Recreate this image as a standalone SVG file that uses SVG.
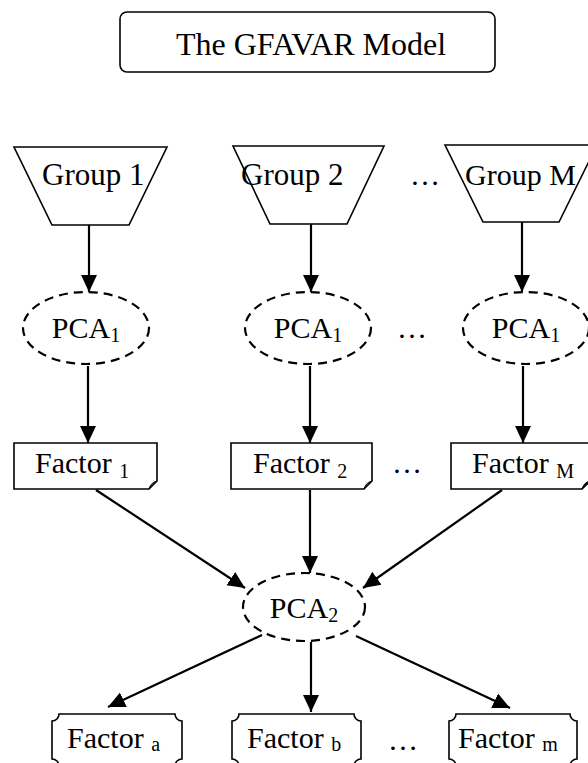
<svg xmlns="http://www.w3.org/2000/svg" width="588" height="763" viewBox="0 0 588 763">
<style>
  text { font-family: "Liberation Serif", "Times New Roman", serif; font-size: 30px; fill: #000; }
  .title { font-size: 32px; }
  .grp { font-size: 31px; }
  .sub { font-size: 20px; }
  .shape { fill: #fff; stroke: #000; stroke-width: 1.6; }
  .dash { fill: #fff; stroke: #000; stroke-width: 2.2; stroke-dasharray: 9 6; }
  .conn line { stroke: #000; stroke-width: 2.2; marker-end: url(#arr); }
</style>
<defs>
  <marker id="arr" markerWidth="18" markerHeight="18" refX="17" refY="9" orient="auto" markerUnits="userSpaceOnUse">
    <path d="M0,1 L17,9 L0,17 Z" fill="#000"/>
  </marker>
</defs>
<rect width="588" height="763" fill="#fff"/>

<g id="title">
  <rect class="shape" x="120" y="12" width="375" height="60" rx="7"/>
  <text class="title" x="311" y="55" text-anchor="middle">The GFAVAR Model</text>
</g>

<g class="conn">
  <line x1="89" y1="225" x2="89" y2="292"/>
  <line x1="311" y1="224" x2="311" y2="292"/>
  <line x1="522" y1="222" x2="522" y2="292"/>
  <line x1="88" y1="366" x2="88" y2="443"/>
  <line x1="310" y1="366" x2="310" y2="443"/>
  <line x1="523" y1="366" x2="523" y2="443"/>
  <line x1="96" y1="490" x2="245" y2="588"/>
  <line x1="310" y1="490" x2="310" y2="573"/>
  <line x1="502" y1="490" x2="363" y2="588"/>
  <line x1="262" y1="635" x2="108" y2="707"/>
  <line x1="311" y1="642" x2="311" y2="712"/>
  <line x1="356" y1="636" x2="510" y2="708"/>
</g>

<g id="group1">
  <path class="shape" d="M14,147 H167 L129,225 H52 Z"/>
  <text class="grp" x="42" y="185">Group 1</text>
</g>
<g id="group2">
  <path class="shape" d="M233,146 H384 L347,224 H270 Z"/>
  <text class="grp" x="241" y="185">Group 2</text>
</g>
<g id="groupM">
  <path class="shape" d="M445,145 H597 L559,222 H483 Z"/>
  <text x="465" y="185">Group M</text>
</g>
<text x="410" y="185">…</text>

<g id="pca1a">
  <ellipse class="dash" cx="86" cy="328" rx="63" ry="36"/>
  <text x="86" y="338" text-anchor="middle">PCA<tspan class="sub" dy="4">1</tspan></text>
</g>
<g id="pca1b">
  <ellipse class="dash" cx="308" cy="328" rx="63" ry="36"/>
  <text x="308" y="338" text-anchor="middle">PCA<tspan class="sub" dy="4">1</tspan></text>
</g>
<g id="pca1c">
  <ellipse class="dash" cx="526" cy="328" rx="63" ry="36"/>
  <text x="526" y="338" text-anchor="middle">PCA<tspan class="sub" dy="4">1</tspan></text>
</g>
<text x="397" y="338">…</text>

<g id="factor1">
  <path class="shape" d="M14,443 H157 V481 L149,489 H14 Z"/>
  <path d="M149,489 Q151,483 157,481" fill="none" stroke="#000" stroke-width="1.2"/>
  <text x="35" y="473">Factor <tspan class="sub" dy="5">1</tspan></text>
</g>
<g id="factor2">
  <path class="shape" d="M231,443 H372 V481 L364,489 H231 Z"/>
  <path d="M364,489 Q366,483 372,481" fill="none" stroke="#000" stroke-width="1.2"/>
  <text x="253" y="473">Factor <tspan class="sub" dy="5">2</tspan></text>
</g>
<g id="factorM">
  <path class="shape" d="M451,443 H590 V481 L582,489 H451 Z"/>
  <path d="M582,489 Q584,483 590,481" fill="none" stroke="#000" stroke-width="1.2"/>
  <text x="472" y="473">Factor <tspan class="sub" dy="5">M</tspan></text>
</g>
<text x="392" y="473">…</text>

<g id="pca2">
  <ellipse class="dash" cx="304" cy="607" rx="61" ry="34"/>
  <text x="304" y="618" text-anchor="middle">PCA<tspan class="sub" dy="4">2</tspan></text>
</g>

<g id="factora">
  <path class="shape" d="M59,714 H175 A7,7 0 0 0 182,721 V759 A7,7 0 0 0 175,766 H59 A7,7 0 0 0 52,759 V721 A7,7 0 0 0 59,714 Z"/>
  <text x="67" y="748">Factor <tspan class="sub" dy="3">a</tspan></text>
</g>
<g id="factorb">
  <path class="shape" d="M239,714 H354 A7,7 0 0 0 361,721 V759 A7,7 0 0 0 354,766 H239 A7,7 0 0 0 232,759 V721 A7,7 0 0 0 239,714 Z"/>
  <text x="247" y="748">Factor <tspan class="sub" dy="3">b</tspan></text>
</g>
<g id="factorm">
  <path class="shape" d="M456,714 H570 A7,7 0 0 0 577,721 V759 A7,7 0 0 0 570,766 H456 A7,7 0 0 0 449,759 V721 A7,7 0 0 0 456,714 Z"/>
  <text x="458" y="748">Factor <tspan class="sub" dy="3">m</tspan></text>
</g>
<text x="388" y="750">…</text>
</svg>
